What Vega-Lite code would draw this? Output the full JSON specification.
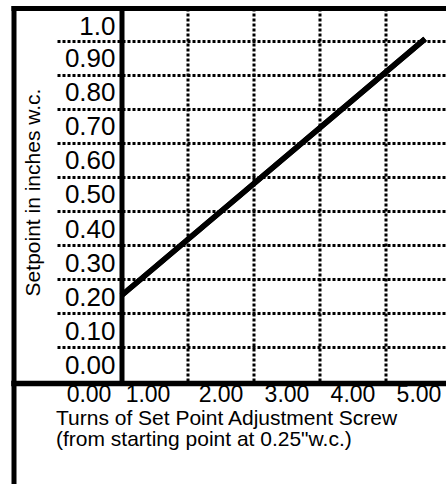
{
  "$schema": "https://vega.github.io/schema/vega-lite/v6.json",
  "autosize": {"type": "none"},
  "width": 432.5,
  "height": 476,
  "padding": {"left": 13.5, "top": 8, "right": 0, "bottom": 0},
  "background": "white",
  "config": {"view": {"stroke": null}, "font": "Liberation Sans"},
  "data": {"values": [{"turns": 0, "setpoint": 0.1525}, {"turns": 4.6, "setpoint": 0.905}]},
  "resolve": {"axis": {"x": "independent", "y": "independent"}},
  "layer": [
    {
      "mark": {"type": "line", "color": "black", "strokeWidth": 5.5, "strokeCap": "butt"},
      "encoding": {
        "x": {
          "field": "turns", "type": "quantitative",
          "scale": {"domain": [-1.6364, 4.9167], "nice": false, "zero": false},
          "axis": {
            "orient": "top", "offset": 0, "title": null,
            "domain": true, "domainColor": "black", "domainWidth": 5, "domainCap": "square",
            "grid": false, "labels": false,
            "ticks": true, "values": [0, 1, 2, 3, 4], "tickSize": -375, "tickColor": "black", "tickCap": "butt",
            "tickWidth": {"condition": {"test": "datum.value == 0", "value": 5}, "value": 3},
            "tickDash": {"condition": {"test": "datum.value == 0", "value": []}, "value": [3, 2]}
          }
        },
        "y": {
          "field": "setpoint", "type": "quantitative",
          "scale": {"domain": [-0.4003, 0.9956], "nice": false, "zero": false},
          "axis": {
            "orient": "left", "offset": 0,
            "domain": true, "domainColor": "black", "domainWidth": 5, "domainCap": "square",
            "ticks": false, "labels": false, "grid": false,
            "title": "Setpoint in inches w.c.", "titleFont": "Liberation Sans", "titleFontSize": 21,
            "titleFontWeight": "normal", "titleColor": "black", "titleX": 19.5, "titleY": 184,
            "titleAngle": -90, "titleAlign": "center", "titleBaseline": "middle"
          }
        }
      }
    },
    {
      "mark": {"type": "line", "color": "black", "strokeWidth": 5.5, "strokeCap": "butt"},
      "encoding": {
        "x": {
          "field": "turns", "type": "quantitative",
          "scale": {"domain": [-1.6364, 4.9167], "nice": false, "zero": false},
          "axis": {
            "orient": "bottom", "offset": -101,
            "domain": true, "domainColor": "black", "domainWidth": 5.5, "domainCap": "square",
            "ticks": false, "grid": false,
            "values": [-1, 0, 1, 2, 3, 4],
            "labelExpr": "format(datum.value + 1, '.2f')",
            "labelOffset": {"condition": {"test": "datum.value == 0", "value": 26}, "value": 33},
            "labelPadding": 0.5, "labelFont": "Liberation Sans", "labelFontSize": 23, "labelColor": "black",
            "labelFlush": false, "labelOverlap": false, "labelBound": false,
            "title": ["Turns of Set Point Adjustment Screw", "(from starting point at 0.25\"w.c.)"],
            "titleFont": "Liberation Sans", "titleFontSize": 21, "titleFontWeight": "normal", "titleColor": "black",
            "titleAlign": "left", "titleAnchor": "start", "titleX": 42, "titleY": 24,
            "titleBaseline": "top", "titleLineHeight": 21.5
          }
        },
        "y": {
          "field": "setpoint", "type": "quantitative",
          "scale": {"domain": [-0.4003, 0.9956], "nice": false, "zero": false},
          "axis": {
            "orient": "left", "offset": -43.5, "title": null,
            "domain": false, "grid": false,
            "ticks": true, "values": [0, 0.1, 0.2, 0.3, 0.4, 0.5, 0.6, 0.7, 0.8, 0.9, 0.995],
            "tickSize": -389, "tickColor": "black", "tickWidth": 3, "tickDash": [3, 2], "tickCap": "butt",
            "tickOpacity": {"condition": {"test": "datum.value > 0.95", "value": 0}, "value": 1},
            "labelExpr": "datum.value > 0.95 ? '1.0' : format(datum.value, '.2f')",
            "labelOffset": 18, "labelPadding": 331, "labelAlign": "right", "labelBaseline": "middle",
            "labelFont": "Liberation Sans", "labelFontSize": 26, "labelColor": "black",
            "labelFlush": false, "labelOverlap": false, "labelBound": false
          }
        }
      }
    }
  ]
}
